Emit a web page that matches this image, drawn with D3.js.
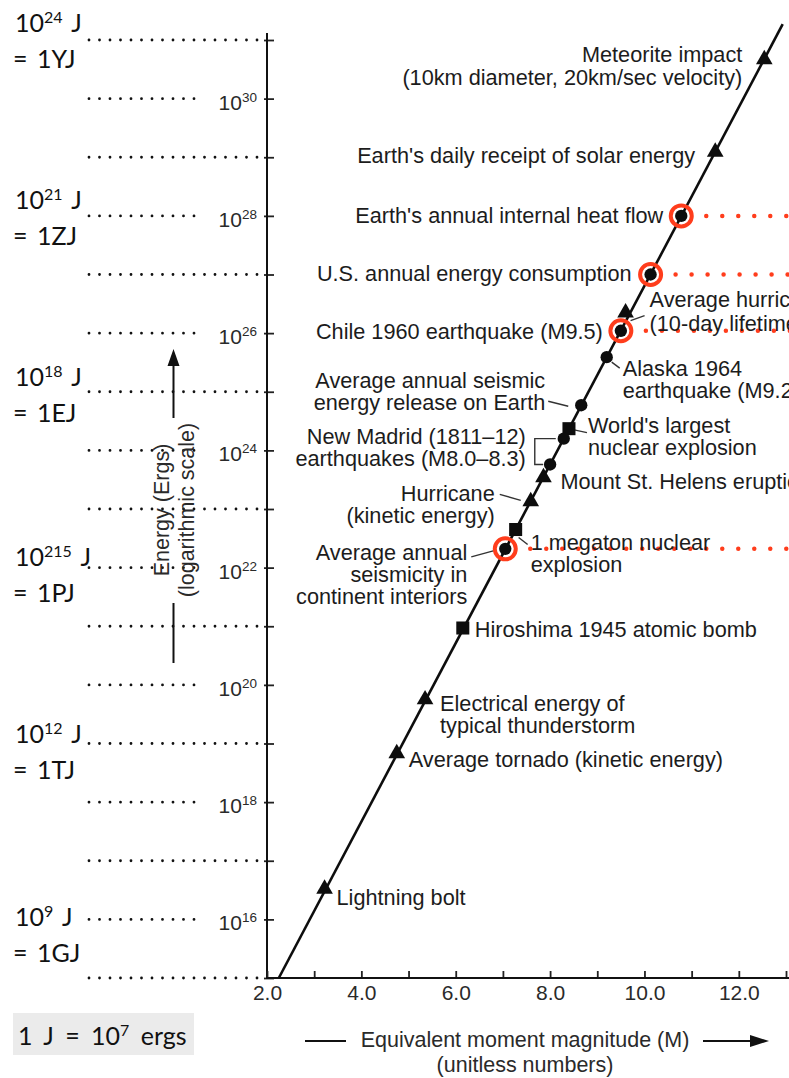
<!DOCTYPE html>
<html><head><meta charset="utf-8">
<script src="https://cdn.jsdelivr.net/npm/d3@7"></script>
<style>
html,body{margin:0;padding:0;background:#fff;}
svg{display:block;}
</style></head><body>
<svg id="chart" width="789" height="1078"></svg>
<script>
// ---------------- data ----------------
const magTicks = [2,3,4,5,6,7,8,9,10,11,12,13];
const magTickLabels = ["2.0","","4.0","","6.0","","8.0","","10.0","","12.0",""];
const ergExponents = [15,16,17,18,19,20,21,22,23,24,25,26,27,28,29,30,31];
const ergLabelExponents = [16,18,20,22,24,26,28,30];

const lineMag = [2.25, 12.93];
const lineLogErg = [15, 31.27];

const eventNames = [
  "Meteorite impact", "Earth's daily receipt of solar energy", "Earth's annual internal heat flow",
  "U.S. annual energy consumption", "Average hurricane (10-day lifetime)", "Chile 1960 earthquake (M9.5)",
  "Alaska 1964 earthquake (M9.2)", "Average annual seismic energy release on Earth",
  "World's largest nuclear explosion", "New Madrid (1811–12) earthquake, M8.3", "New Madrid (1811–12) earthquake, M8.0",
  "Mount St. Helens eruption", "Hurricane (kinetic energy)", "1 megaton nuclear explosion",
  "Average annual seismicity in continent interiors", "Hiroshima 1945 atomic bomb",
  "Electrical energy of typical thunderstorm", "Average tornado (kinetic energy)", "Lightning bolt"
];
const eventMag =    [12.54, 11.50, 10.78, 10.13, 9.60, 9.50, 9.20, 8.66, 8.40, 8.29, 8.00, 7.86, 7.59, 7.27, 7.05, 6.15, 5.35, 4.75, 3.22];
const eventLogErg = [30.67, 29.09, 28.00, 27.00, 26.35, 26.04, 25.59, 24.77, 24.37, 24.20, 23.76, 23.54, 23.13, 22.65, 22.32, 20.97, 19.75, 18.83, 16.52];
const eventMarker = ["tri","tri","circle","circle","tri","circle","circle","circle","square","circle","circle","tri","tri","square","circle","square","tri","tri","tri"];
const eventLabelLines = [
  ["Meteorite impact","(10km diameter, 20km/sec velocity)"],
  ["Earth's daily receipt of solar energy"],
  ["Earth's annual internal heat flow"],
  ["U.S. annual energy consumption"],
  ["Average hurricane","(10-day lifetime)"],
  ["Chile 1960 earthquake (M9.5)"],
  ["Alaska 1964","earthquake (M9.2)"],
  ["Average annual seismic","energy release on Earth"],
  ["World's largest","nuclear explosion"],
  ["New Madrid (1811–12)","earthquakes (M8.0–8.3)"],
  [],
  ["Mount St. Helens eruption"],
  ["Hurricane","(kinetic energy)"],
  ["1 megaton nuclear","explosion"],
  ["Average annual","seismicity in","continent interiors"],
  ["Hiroshima 1945 atomic bomb"],
  ["Electrical energy of","typical thunderstorm"],
  ["Average tornado (kinetic energy)"],
  ["Lightning bolt"]
];
const highlightedEvents = ["Earth's annual internal heat flow","U.S. annual energy consumption","Chile 1960 earthquake (M9.5)","Average annual seismicity in continent interiors"];

const jouleSup = ["24","21","18","215","12","9"];
const jouleUnit = ["= 1YJ","= 1ZJ","= 1EJ","= 1PJ","= 1TJ","= 1GJ"];
const jouleLogErg = [31,28,25,22,19,16];

// ---------------- layout (positions relative to marks) ----------------
const labelLayout = [
  {a:"end",dx:-22,dy:[3,26]},
  {a:"end",dx:-20,dy:[11]},
  {a:"end",dx:-18,dy:[7]},
  {a:"end",dx:-19,dy:[6.5]},
  {a:"start",dx:24,dy:[-6,18]},
  {a:"end",dx:-18,dy:[8]},
  {a:"start",dx:16,dy:[19,41]},
  {a:"end",dx:-36,dy:[-17,5]},
  {a:"start",dx:19,dy:[4,26]},
  {a:"end",dx:-38,dy:[5,27]},
  null,
  {a:"start",dx:17,dy:[12]},
  {a:"end",dx:-36,dy:[0,22]},
  {a:"start",dx:15,dy:[20,42]},
  {a:"end",dx:-38,dy:[11,33,55]},
  {a:"start",dx:12,dy:[9]},
  {a:"start",dx:15,dy:[11.5,33.5]},
  {a:"start",dx:12,dy:[13.5]},
  {a:"start",dx:12,dy:[16]}
];
const leaderLayout = [
  {i:4,p:[19,3,5,8]},
  {i:6,p:[5,5,13,11]},
  {i:7,p:[-33,-4,-13,1]},
  {i:8,p:[4,1,18,4]},
  {i:12,p:[-31,-7,-10,-1]},
  {i:13,p:[3,8,12,15]},
  {i:14,p:[-34,8,-12,2]}
];
const jouleDy = [-8,-7,-6,-2,-1,7];

// ---------------- chart ----------------
const svg = d3.select("#chart");
const x = d3.scaleLinear().domain([2,13]).range([267,786]);
const y = d3.scaleLog().domain([1e15,1e31]).range([978,40]);
const Y = e => y(Math.pow(10,e));
const FONT = "'Liberation Sans', Arial, Helvetica, sans-serif";
const INK = "#1c1c1c";

// left dotted guide lines
svg.append("g").selectAll("line").data(ergExponents).join("line")
  .attr("x1",89).attr("x2",d => d%2===1 ? 257.5 : 194.5)
  .attr("y1",d=>Y(d)).attr("y2",d=>Y(d))
  .attr("stroke","#111").attr("stroke-width",2.8)
  .attr("stroke-linecap","round").attr("stroke-dasharray","0 10.5");

// joule labels
const jg = svg.append("g").attr("font-family","Lato, 'Open Sans', sans-serif").attr("fill","#111");
jouleSup.forEach((s,i)=>{
  const base = Y(jouleLogErg[i]) + jouleDy[i];
  const t = jg.append("text").attr("x",15).attr("y",base).attr("font-size",25).attr("word-spacing","3px");
  t.append("tspan").text("10");
  t.append("tspan").attr("font-size",16).attr("dy",-9).text(s);
  t.append("tspan").attr("dy",9).text(" J");
  jg.append("text").attr("x",13).attr("y",base+36).attr("font-size",25).attr("word-spacing","3px").text(jouleUnit[i]);
});

// conversion box
svg.append("rect").attr("x",13).attr("y",1013).attr("width",181).attr("height",42).attr("fill","#ebebeb");
{
  const t = svg.append("text").attr("x",18).attr("y",1045).attr("font-family","Lato, 'Open Sans', sans-serif")
    .attr("font-size",25).attr("fill","#111").attr("word-spacing","5px");
  t.append("tspan").text("1 J = 10");
  t.append("tspan").attr("font-size",16).attr("dy",-9).text("7");
  t.append("tspan").attr("dy",9).text(" ergs");
}

// y axis
const yAxisG = svg.append("g").attr("transform","translate(267,0)")
  .call(d3.axisLeft(y).tickValues(ergExponents.map(e=>Math.pow(10,e))).tickSizeInner(-7).tickSizeOuter(0).tickFormat(()=>""));
yAxisG.select(".domain").remove();
yAxisG.selectAll(".tick line").attr("x1",-3).attr("x2",7).attr("stroke","#222").attr("stroke-width",1.8);
svg.append("line").attr("x1",267).attr("x2",267).attr("y1",y(1e15)).attr("y2",Y(31.12))
  .attr("stroke","#111").attr("stroke-width",2);

const yl = svg.append("g").attr("font-family",FONT).attr("fill","#2a2a2a");
ergLabelExponents.forEach(e=>{
  const t = yl.append("text").attr("x",257).attr("y",Y(e)+11).attr("text-anchor","end").attr("font-size",21);
  t.append("tspan").text("10");
  t.append("tspan").attr("font-size",13.5).attr("dy",-8).text(String(e));
});

// x axis
const xAxisG = svg.append("g").attr("transform","translate(0,978)")
  .call(d3.axisBottom(x).tickValues(magTicks).tickSizeInner(-7).tickSizeOuter(0).tickPadding(7)
    .tickFormat((d,i)=>magTickLabels[i]));
xAxisG.select(".domain").remove();
xAxisG.selectAll(".tick line").attr("stroke","#222").attr("stroke-width",1.8);
xAxisG.selectAll(".tick text").attr("font-family",FONT).attr("font-size",21).attr("fill","#2a2a2a");
svg.append("line").attr("x1",266).attr("x2",789).attr("y1",978).attr("y2",978)
  .attr("stroke","#111").attr("stroke-width",2.2);

// axis titles
const yt = svg.append("g").attr("transform","translate(173.5,510) rotate(-90)")
  .attr("font-family",FONT).attr("font-size",21.5).attr("fill","#2a2a2a").attr("text-anchor","middle");
yt.append("text").attr("x",0).attr("y",-5).text("Energy (Ergs)");
yt.append("text").attr("x",0).attr("y",20).text("(logarithmic scale)");
svg.append("line").attr("x1",173.5).attr("x2",173.5).attr("y1",418).attr("y2",362).attr("stroke","#111").attr("stroke-width",2);
svg.append("path").attr("d","M173.5,349 L167.5,366 L179.5,366 Z").attr("fill","#111");
svg.append("line").attr("x1",173.5).attr("x2",173.5).attr("y1",603).attr("y2",663).attr("stroke","#111").attr("stroke-width",2);

const xt = svg.append("g").attr("font-family",FONT).attr("font-size",21.5).attr("fill","#2a2a2a").attr("text-anchor","middle");
xt.append("text").attr("x",525).attr("y",1047).text("Equivalent moment magnitude (M)");
xt.append("text").attr("x",525).attr("y",1072).text("(unitless numbers)");
svg.append("line").attr("x1",305).attr("x2",346).attr("y1",1041).attr("y2",1041).attr("stroke","#111").attr("stroke-width",2);
svg.append("line").attr("x1",703).attr("x2",752).attr("y1",1041).attr("y2",1041).attr("stroke","#111").attr("stroke-width",2);
svg.append("path").attr("d","M769,1041 L750,1035 L750,1047 Z").attr("fill","#111");

// main relation line
const lineData = lineMag.map((m,i)=>[m,lineLogErg[i]]);
svg.append("path").datum(lineData)
  .attr("d", d3.line().x(d=>x(d[0])).y(d=>Y(d[1])))
  .attr("stroke","#0d0d0d").attr("stroke-width",2.6).attr("fill","none");

// events
const events = eventNames.map((n,i)=>({name:n,m:eventMag[i],e:eventLogErg[i],mk:eventMarker[i],lines:eventLabelLines[i],lay:labelLayout[i]}));
const px = d => x(d.m), py = d => Y(d.e);

// leaders
svg.append("g").selectAll("line").data(leaderLayout).join("line")
  .attr("x1",d=>px(events[d.i])+d.p[0]).attr("y1",d=>py(events[d.i])+d.p[1])
  .attr("x2",d=>px(events[d.i])+d.p[2]).attr("y2",d=>py(events[d.i])+d.p[3])
  .attr("stroke","#333").attr("stroke-width",1.4);

// New Madrid bracket
{
  const a = events[9], b = events[10];
  const bx = px(a) + a.lay.dx + 9;
  svg.append("path").attr("d",`M${px(a)-8},${py(a)} H${bx} V${py(b)} H${px(b)-7}`)
    .attr("fill","none").attr("stroke","#333").attr("stroke-width",1.4);
}

const symType = {tri:d3.symbolTriangle, circle:d3.symbolCircle, square:d3.symbolSquare};
const symSize = {tri:120, circle:120, square:170};
svg.append("g").selectAll("path").data(events).join("path")
  .attr("transform",d=>`translate(${px(d)},${py(d)})`)
  .attr("d",d=>d3.symbol(symType[d.mk], symSize[d.mk])())
  .attr("fill","#0d0d0d");

// highlights
const hl = events.filter(d=>highlightedEvents.includes(d.name));
svg.append("g").selectAll("line").data(hl).join("line")
  .attr("x1",d=>px(d)+25).attr("x2",800).attr("y1",py).attr("y2",py)
  .attr("stroke","#ff3d1c").attr("stroke-width",4.5).attr("stroke-linecap","round").attr("stroke-dasharray","0 16");
svg.append("g").selectAll("circle").data(hl).join("circle")
  .attr("cx",px).attr("cy",py).attr("r",10.5)
  .attr("fill","none").attr("stroke","#ff3d1c").attr("stroke-width",4);

// labels
const lg = svg.append("g").attr("font-family",FONT).attr("font-size",21.7).attr("fill",INK);
events.forEach(d=>{
  if(!d.lay) return;
  d.lines.forEach((ln,k)=>{
    lg.append("text").attr("x",px(d)+d.lay.dx).attr("y",py(d)+d.lay.dy[k])
      .attr("text-anchor",d.lay.a).text(ln);
  });
});
</script>
</body></html>
